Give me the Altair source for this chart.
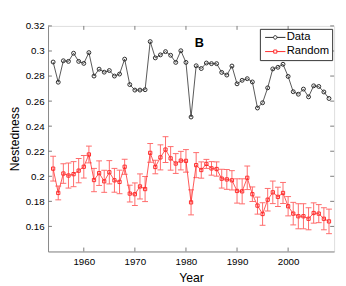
import altair as alt
import pandas as pd

years = list(range(1954, 2009))
data_vals = [0.2912, 0.2751, 0.2922, 0.2917, 0.2982, 0.2917, 0.2901, 0.2987, 0.2800, 0.2855,
             0.2831, 0.2844, 0.2800, 0.2816, 0.2935, 0.2732, 0.2688, 0.2688, 0.2691, 0.3075,
             0.2945, 0.2969, 0.2995, 0.2966, 0.2909, 0.3002, 0.2909, 0.2473, 0.2882, 0.2860,
             0.2904, 0.2899, 0.2899, 0.2829, 0.2808, 0.2880, 0.2738, 0.2766, 0.2779, 0.2753,
             0.2545, 0.2587, 0.2706, 0.2857, 0.2870, 0.2894, 0.2797, 0.2675, 0.2655, 0.2696,
             0.2634, 0.2722, 0.2717, 0.2673, 0.2621]
rand_vals = [0.2061, 0.1867, 0.2022, 0.2006, 0.2017, 0.2045, 0.2076, 0.2174, 0.1970, 0.2025,
             0.1960, 0.2032, 0.1968, 0.1955, 0.2076, 0.1862, 0.1857, 0.1919, 0.1898, 0.2187,
             0.2074, 0.2151, 0.2213, 0.2143, 0.2102, 0.2125, 0.2123, 0.1792, 0.2089, 0.2050,
             0.2099, 0.2063, 0.2058, 0.1981, 0.1975, 0.1968, 0.1883, 0.1880, 0.1988, 0.1857,
             0.1766, 0.1699, 0.1813, 0.1872, 0.1836, 0.1867, 0.1761, 0.1702, 0.1681, 0.1681,
             0.1661, 0.1707, 0.1702, 0.1661, 0.1640]
rand_err = [0.0099, 0.0055, 0.0078, 0.0100, 0.0100, 0.0097, 0.0090, 0.0067, 0.0093, 0.0098,
            0.0088, 0.0093, 0.0095, 0.0094, 0.0060, 0.0067, 0.0090, 0.0100, 0.0100, 0.0075,
            0.0054, 0.0100, 0.0103, 0.0094, 0.0079, 0.0074, 0.0090, 0.0100, 0.0100, 0.0065,
            0.0036, 0.0054, 0.0057, 0.0075, 0.0079, 0.0077, 0.0097, 0.0100, 0.0094, 0.0058,
            0.0068, 0.0090, 0.0090, 0.0090, 0.0077, 0.0084, 0.0077, 0.0090, 0.0100, 0.0100,
            0.0088, 0.0081, 0.0072, 0.0088, 0.0098]
x_ticks = [1960, 1970, 1980, 1990, 2000]
y_ticks = [0.16, 0.18, 0.20, 0.22, 0.24, 0.26, 0.28, 0.30, 0.32]
series_names = ["Data", "Random"]
annot_text = ["B"]
annot_year = [1982.6]
annot_val = [0.3063]

W, H = 293, 231
GRAY = "#7a7a7a"
BLACK = "#2a2a2a"
RED = "#ff2a2a"
ERR = "#ff6a6a"
FONT = "Liberation Sans"

df = pd.DataFrame({"year": years, "data": data_vals, "rand": rand_vals, "err": rand_err})
df["lo"] = df["rand"] - df["err"]
df["hi"] = df["rand"] + df["err"]

x_scale = alt.Scale(domain=[1953, 2009], nice=False, zero=False)
y_scale = alt.Scale(domain=[0.14, 0.32], nice=False, zero=False)
x_axis = alt.Axis(values=x_ticks, format="d", title="Year", tickSize=0, grid=False,
                  labelPadding=5, titlePadding=6, titleFontWeight="normal",
                  titleFont=FONT, titleFontSize=12.5)
y_axis = alt.Axis(values=y_ticks, format="~g", title="Nestedness", tickSize=0, grid=False,
                  labelPadding=4, titlePadding=4, titleFontWeight="normal",
                  titleFont=FONT, titleFontSize=12.5)

def X(field):
    return alt.X(field, type="quantitative", scale=x_scale, axis=x_axis)

def Y(field):
    return alt.Y(field, type="quantitative", scale=y_scale, axis=y_axis)

base = alt.Chart(df)

data_line = base.mark_line(color=BLACK, strokeWidth=0.8).encode(x=X("year"), y=Y("data"))
data_pts = base.mark_point(shape="circle", filled=False, color=BLACK, size=16,
                           strokeWidth=1, opacity=1).encode(x=X("year"), y=Y("data"))

err_rule = base.mark_rule(color=ERR, strokeWidth=1).encode(x=X("year"), y=Y("lo"), y2="hi")
err_lo = base.mark_tick(color=ERR, orient="horizontal", size=6, thickness=1, opacity=1).encode(
    x=X("year"), y=Y("lo"))
err_hi = base.mark_tick(color=ERR, orient="horizontal", size=6, thickness=1, opacity=1).encode(
    x=X("year"), y=Y("hi"))
rand_line = base.mark_line(color=RED, strokeWidth=0.8).encode(x=X("year"), y=Y("rand"))
rand_pts = base.mark_point(shape="square", filled=False, color=RED, size=11,
                           strokeWidth=1, opacity=1).encode(x=X("year"), y=Y("rand"))

# legend-only layer (no visible data)
sym_data = "M-2.6,0L-0.45,0M0.45,0L2.6,0M-0.45,0A0.45,0.45,0,1,1,0.45,0A0.45,0.45,0,1,1,-0.45,0"
sym_rand = "M-2.6,0L-0.4,0M0.4,0L2.6,0M-0.4,-0.4L0.4,-0.4L0.4,0.4L-0.4,0.4Z"
leg_df = pd.DataFrame({"series": series_names, "year": [years[0], years[0]],
                       "v": [data_vals[0], rand_vals[0]]})
legend_layer = alt.Chart(leg_df).transform_filter("datum.year < 0").mark_point(
    filled=False, opacity=1, strokeWidth=1).encode(
    x=X("year"), y=Y("v"),
    color=alt.Color("series:N", scale=alt.Scale(domain=series_names, range=[BLACK, RED]),
                    legend=alt.Legend(title=None, orient="none", legendX=217, legendY=3,
                                      strokeColor="#333333", fillColor="white", padding=3,
                                      symbolSize=64, symbolOffset=7, labelOffset=6,
                                      rowPadding=1.5, labelFontSize=11.5, labelFont=FONT,
                                      labelColor="black", symbolStrokeWidth=1)),
    shape=alt.Shape("series:N", scale=alt.Scale(domain=series_names, range=[sym_data, sym_rand]),
                    legend=alt.Legend(title=None, orient="none", legendX=217, legendY=3)),
)

ann_df = pd.DataFrame({"t": annot_text, "year": annot_year, "v": annot_val})
annot = alt.Chart(ann_df).mark_text(font=FONT, fontSize=13, fontWeight="bold", color="black").encode(
    x=X("year"), y=Y("v"), text="t:N")

# inward ticks (MATLAB-style box)
xt_df = pd.DataFrame({"t": x_ticks})
yt_df = pd.DataFrame({"t": y_ticks})
xt_bot = alt.Chart(xt_df).mark_rule(color=GRAY, strokeWidth=1).encode(
    x=X("t"), y=alt.value(H), y2=alt.value(H - 4))
xt_top = alt.Chart(xt_df).mark_rule(color=GRAY, strokeWidth=1).encode(
    x=X("t"), y=alt.value(0), y2=alt.value(4))
yt_left = alt.Chart(yt_df).mark_rule(color=GRAY, strokeWidth=1).encode(
    y=Y("t"), x=alt.value(0), x2=alt.value(4))
yt_right = alt.Chart(yt_df).mark_rule(color=GRAY, strokeWidth=1).encode(
    y=Y("t"), x=alt.value(W - 4), x2=alt.value(W))

chart = alt.layer(
    xt_bot, xt_top, yt_left, yt_right,
    data_line, data_pts, err_rule, err_lo, err_hi, rand_line, rand_pts,
    annot, legend_layer,
).properties(
    width=W, height=H,
    autosize=alt.AutoSizeParams(type="none"),
    padding={"left": 41, "top": 15, "right": 4, "bottom": 32},
).configure_view(
    stroke=GRAY, strokeWidth=1.5
).configure_axis(
    domainColor=GRAY, domainWidth=1.5, labelFont=FONT, titleFont=FONT,
    labelFontSize=10.5, titleFontSize=12.5, labelColor="black", titleColor="black",
    titleFontWeight="normal"
).configure(background="white")

chart.save("out.html", embed_options={"renderer": "svg", "actions": False})
